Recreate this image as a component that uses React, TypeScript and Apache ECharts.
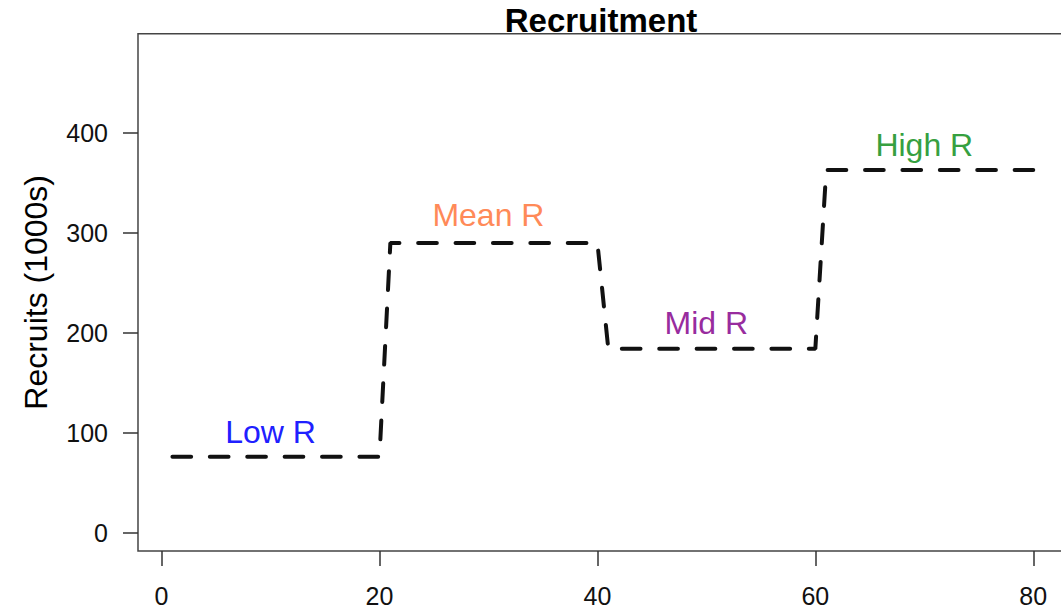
import React, { useEffect, useRef } from "react";
import * as echarts from "echarts";

const years: number[] = Array.from({ length: 80 }, (_, i) => i + 1);
const regimeValues = [76, 290, 184, 363];
const regimeLength = 20;
const recruits: number[] = years.map((_, i) => regimeValues[Math.floor(i / regimeLength)]);

const labelNames = ["Low R", "Mean R", "Mid R", "High R"];
const labelX = [10, 30, 50, 70];
const labelY = [101, 318, 210, 388];
const labelColors = ["#2020FF", "#FF8A58", "#982C9E", "#36A040"];

const xTicks = [0, 20, 40, 60, 80];
const yTicks = [0, 100, 200, 300, 400];

const FONT = "'Liberation Sans', Arial, sans-serif";

export default function App() {
  const ref = useRef<HTMLDivElement>(null);
  useEffect(() => {
    if (!ref.current) return;
    const chart = echarts.init(ref.current, null, { renderer: "svg" });
    const axisColor = "#333";
    chart.setOption({
      animation: false,
      backgroundColor: "#ffffff",
      grid: {
        left: 138,
        top: 33.7,
        right: 7.3,
        bottom: 60,
        show: true,
        borderColor: "#444",
        borderWidth: 1.5,
        backgroundColor: "transparent",
      },
      graphic: [
        {
          type: "text",
          x: 601,
          y: 20,
          style: {
            text: "Recruitment",
            font: `bold 33px ${FONT}`,
            fill: "#000",
            textAlign: "center",
            textVerticalAlign: "middle",
          },
        },
      ],
      xAxis: {
        type: "value",
        min: -2.16,
        max: 83.16,
        splitLine: { show: false },
        axisLine: { show: false, onZero: false },
        axisTick: {
          show: true,
          inside: false,
          length: 15,
          customValues: xTicks,
          lineStyle: { color: axisColor, width: 1.5 },
        },
        axisLabel: {
          customValues: xTicks,
          margin: 32,
          fontSize: 25,
          fontFamily: FONT,
          color: "#111",
        },
      },
      yAxis: {
        type: "value",
        min: -18.5,
        max: 499.5,
        name: "Recruits (1000s)",
        nameLocation: "middle",
        nameRotate: 90,
        nameGap: 86,
        nameTextStyle: { fontSize: 32, fontFamily: FONT, color: "#000" },
        splitLine: { show: false },
        axisLine: { show: false, onZero: false },
        axisTick: {
          show: true,
          inside: false,
          length: 15,
          customValues: yTicks,
          lineStyle: { color: axisColor, width: 1.5 },
        },
        axisLabel: {
          customValues: yTicks,
          margin: 30,
          fontSize: 25,
          fontFamily: FONT,
          color: "#111",
        },
      },
      series: [
        {
          type: "line",
          data: years.map((x, i) => [x, recruits[i]]),
          showSymbol: false,
          symbol: "none",
          lineStyle: {
            color: "#111",
            width: 4,
            type: [18.7, 18.7],
            cap: "round",
          },
        },
        {
          type: "scatter",
          symbolSize: 0,
          itemStyle: { opacity: 1 },
          data: labelNames.map((n, i) => ({
            name: n,
            value: [labelX[i], labelY[i]],
            label: { color: labelColors[i] },
          })),
          label: {
            show: true,
            position: "inside",
            formatter: (p: any) => p.name,
            fontSize: 32,
            fontFamily: FONT,
            opacity: 1,
          },
        },
      ],
    });
    return () => chart.dispose();
  }, []);
  return (
    <div style={{ position: "fixed", left: 0, top: 0, width: 1061, height: 611, overflow: "hidden" }}>
      <div ref={ref} style={{ width: 1075, height: 611 }} />
    </div>
  );
}
